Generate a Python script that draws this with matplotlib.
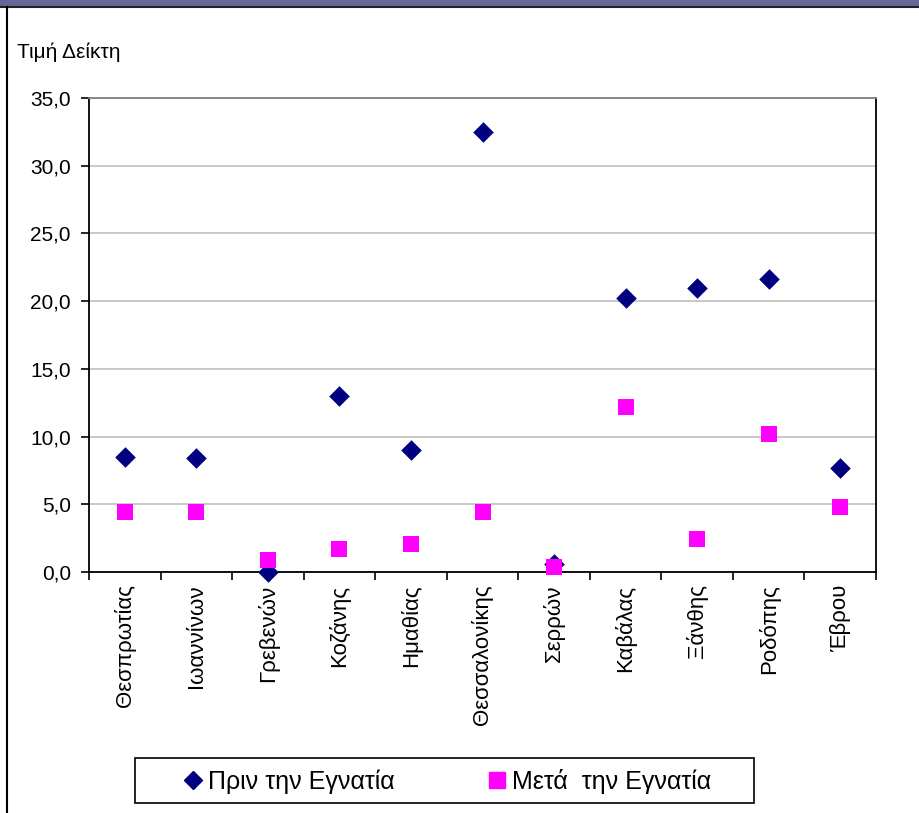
import matplotlib
matplotlib.use("Agg")
import matplotlib.pyplot as plt
from matplotlib.lines import Line2D
from matplotlib.patches import Rectangle
from matplotlib.ticker import FuncFormatter, MultipleLocator

plt.rcParams['font.family'] = ['Liberation Sans', 'DejaVu Sans']

categories = ["Θεσπρωτίας", "Ιωαννίνων", "Γρεβενών", "Κοζάνης", "Ημαθίας",
              "Θεσσαλονίκης", "Σερρών", "Καβάλας", "Ξάνθης", "Ροδόπης", "Έβρου"]
before = [8.5, 8.4, 0.0, 13.0, 9.0, 32.5, 0.6, 20.2, 21.0, 21.6, 7.7]
after = [4.4, 4.4, 0.9, 1.7, 2.1, 4.4, 0.4, 12.2, 2.4, 10.2, 4.8]
series_names = ["Πριν την Εγνατία", "Μετά  την Εγνατία"]
y_label = "Τιμή Δείκτη"

W, H = 919, 813
fig = plt.figure(figsize=(W / 100, H / 100), dpi=100)

# outer decoration: purple header band and left border
fig.patches.append(Rectangle((0, 1 - 6 / H), 1, 6 / H, transform=fig.transFigure,
                             facecolor="#666699", edgecolor="none", zorder=0))
fig.add_artist(Line2D([0, 1], [1 - 7 / H, 1 - 7 / H], transform=fig.transFigure,
                      color="#222222", lw=1.5))
fig.add_artist(Line2D([7 / W, 7 / W], [0, 1 - 7 / H], transform=fig.transFigure,
                      color="black", lw=1.5))

left, right, top, bottom = 89, 876, 98, 572
ax = fig.add_axes([left / W, 1 - bottom / H, (right - left) / W, (bottom - top) / H])

x = list(range(len(categories)))
ax.scatter(x, before, marker="D", s=110, color="#000080", zorder=3, linewidths=0,
           clip_on=False)
ax.scatter(x, after, marker="s", s=130, color="#FF00FF", zorder=3, linewidths=0,
           clip_on=False)

ax.set_xlim(-0.5, len(categories) - 0.5)
ax.set_ylim(0, 35)
ax.yaxis.set_major_locator(MultipleLocator(5))
ax.yaxis.set_major_formatter(FuncFormatter(lambda v, p: f"{v:.1f}".replace(".", ",")))
ax.grid(axis="y", color="#C0C0C0", lw=1.2, zorder=0)
ax.set_axisbelow(True)

ax.set_xticks([i - 0.5 for i in range(len(categories) + 1)], minor=False)
ax.set_xticklabels([])
ax.set_xticks(x, minor=True)
ax.set_xticklabels(categories, minor=True, rotation=90, fontsize=16)
ax.tick_params(axis="x", which="minor", length=0, pad=9)
ax.tick_params(axis="x", which="major", length=6, width=1.2, direction="out")
ax.tick_params(axis="y", length=6, width=1.2, direction="out", labelsize=15, pad=7)

for s in ["left", "bottom", "right"]:
    ax.spines[s].set_color("black")
    ax.spines[s].set_linewidth(1.3)
ax.spines["top"].set_color("#808080")
ax.spines["top"].set_linewidth(1.3)

fig.text(17 / W, 1 - 52 / H, y_label, fontsize=15, ha="left", va="center")

# legend frame
lx0, lx1, ly0, ly1 = 135, 754, 758, 803
fig.patches.append(Rectangle((lx0 / W, 1 - ly1 / H), (lx1 - lx0) / W, (ly1 - ly0) / H,
                             transform=fig.transFigure, facecolor="white",
                             edgecolor="black", lw=1.2, zorder=1))
handles = [
    Line2D([], [], marker="D", color="#000080", ls="none", markersize=9),
    Line2D([], [], marker="s", color="#FF00FF", ls="none", markersize=11),
]
leg = fig.legend(handles, series_names, loc="center",
                 bbox_to_anchor=(446 / W, 1 - 781 / H),
                 ncol=2, fontsize=18, frameon=False,
                 columnspacing=3.6, handletextpad=0.1,
                 borderpad=0.0, handlelength=1.0)
leg.set_zorder(2)

fig.savefig("out.png", dpi=100)
